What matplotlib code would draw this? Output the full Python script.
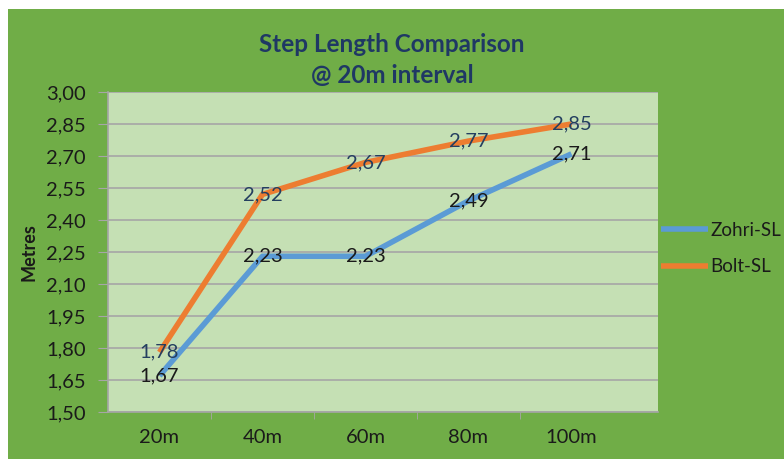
import matplotlib.pyplot as plt
from matplotlib.patches import Rectangle
from matplotlib.ticker import FixedLocator

categories = ['20m', '40m', '60m', '80m', '100m']
zohri_sl = [1.67, 2.23, 2.23, 2.49, 2.71]
bolt_sl = [1.78, 2.52, 2.67, 2.77, 2.85]
y_ticks = [1.50, 1.65, 1.80, 1.95, 2.10, 2.25, 2.40, 2.55, 2.70, 2.85, 3.00]

plt.rcParams['font.family'] = ['Lato', 'DejaVu Sans']

fig = plt.figure(figsize=(7.84, 4.59), dpi=100)
fig.patch.set_facecolor('white')
fig.patches.append(Rectangle((8 / 784, 0), 1, 1 - 9 / 459, transform=fig.transFigure,
                             facecolor='#70AD47', edgecolor='none', zorder=-5))

ax = fig.add_axes([108 / 784, 1 - 412 / 459, 550 / 784, 320 / 459])
ax.set_zorder(2)
ax.set_facecolor('#C5E0B4')

x = list(range(len(categories)))
ax.plot(x, zohri_sl, color='#5B9BD5', linewidth=4, label='Zohri-SL', solid_capstyle='butt', zorder=3)
ax.plot(x, bolt_sl, color='#ED7D31', linewidth=4, label='Bolt-SL', solid_capstyle='butt', zorder=3)

fmt = lambda v: f'{v:.2f}'.replace('.', ',')
for xi, v in zip(x, zohri_sl):
    ax.text(xi, v, fmt(v), ha='center', va='center', fontsize=14.5, color='#1a1a1a', zorder=4)
for xi, v in zip(x, bolt_sl):
    ax.text(xi, v, fmt(v), ha='center', va='center', fontsize=14.5, color='#243F60', zorder=4)

ax.set_ylim(1.50, 3.00)
ax.set_xlim(-0.5, 4.84)
ax.set_yticks(y_ticks)
ax.set_yticklabels([fmt(v) for v in y_ticks], fontsize=14.5, color='#1a1a1a')
ax.set_xticks(x)
ax.set_xticklabels(categories, fontsize=14.5, color='#1a1a1a')
ax.xaxis.set_minor_locator(FixedLocator([0.5, 1.5, 2.5, 3.5]))
ax.tick_params(axis='x', which='major', length=0, pad=12)
ax.tick_params(axis='x', which='minor', length=5, color='#A6A6A6', direction='out')
ax.tick_params(axis='y', length=7, color='#A6A6A6', direction='out', pad=9)
ax.grid(axis='y', color='#A6A6A6', linewidth=1.2)
ax.set_axisbelow(True)
for s in ['top', 'right']:
    ax.spines[s].set_visible(False)
for s in ['left', 'bottom']:
    ax.spines[s].set_color('#A6A6A6')
    ax.spines[s].set_linewidth(1.2)

ax.set_ylabel('Metres', fontsize=13, fontweight='bold', color='#1a1a1a', labelpad=6)

fig.text(392 / 784, 1 - 45 / 459, 'Step Length Comparison', ha='center', va='center',
         fontsize=17.5, fontweight='bold', color='#1F3864')
fig.text(392 / 784, 1 - 75 / 459, '@ 20m interval', ha='center', va='center',
         fontsize=17.5, fontweight='bold', color='#1F3864')

ax.legend(loc='center left', bbox_to_anchor=(1.005, 0.511), frameon=False, fontsize=13.5,
          borderaxespad=0, borderpad=0, handlelength=2.5, handletextpad=0.15,
          labelspacing=1.05, labelcolor='#1a1a1a')

fig.savefig('out.png', dpi=100)
